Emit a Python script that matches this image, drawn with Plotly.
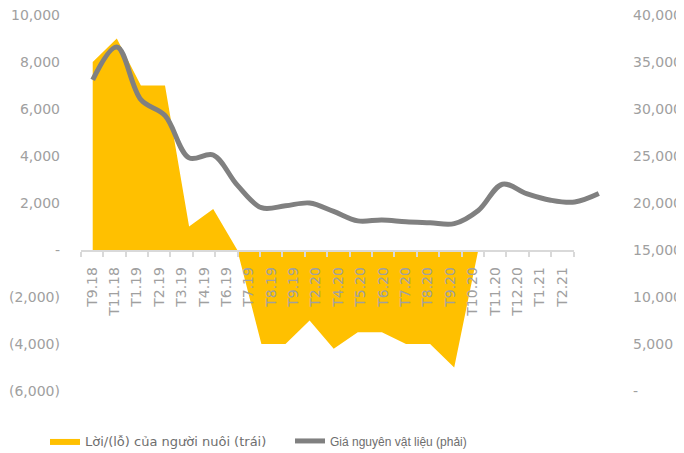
import plotly.graph_objects as go

months = ["T9.18", "T11.18", "T1.19", "T2.19", "T3.19", "T4.19", "T6.19", "T7.19",
          "T8.19", "T9.19", "T2.20", "T4.20", "T5.20", "T6.20", "T7.20", "T8.20",
          "T9.20", "T10.20", "T11.20", "T12.20", "T1.21", "T2.21"]

profit = [8000, 9000, 7000, 7000, 1000, 1750, 0, -4000, -4000, -3000, -4200, -3500,
          -3500, -4000, -4000, -5000, 0, None, None, None, None, None]

price = [33100, 36600, 31000, 29300, 24800, 25100, 21900, 19500, 19700, 20000, 19100,
         18100, 18200, 18000, 17900, 17800, 19200, 22000, 21000, 20300, 20100, 21000]

left_vals = [-6000, -4000, -2000, 0, 2000, 4000, 6000, 8000, 10000]
left_text = ["(6,000)", "(4,000)", "(2,000)", "-", "2,000", "4,000", "6,000", "8,000", "10,000"]
right_vals = [0, 5000, 10000, 15000, 20000, 25000, 30000, 35000, 40000]
right_text = ["-", "5,000", "10,000", "15,000", "20,000", "25,000", "30,000", "35,000", "40,000"]

name_profit = "Lời/(lỗ) của người nuôi (trái)"
name_price = "<span style='font-family:Liberation Sans;font-size:12px'>Giá nguyên vật liệu (phải)</span>"

# the page adds an 8px body margin, so the figure is 8px smaller than the window
W, H = 676, 445
FONT = "DejaVu Sans"
AX_COLOR = "#A0A0A0"

fig = go.Figure()

fig.add_trace(go.Scatter(
    x=months, y=profit, name=name_profit, mode="lines",
    line=dict(width=0, color="#FFC000"), fill="tozeroy", fillcolor="#FFC000",
    xaxis="x", yaxis="y", hoverinfo="x+y"))

fig.add_trace(go.Scatter(
    x=months, y=price, name=name_price, mode="lines",
    line=dict(width=5, color="#808080", shape="spline", smoothing=1.0),
    xaxis="x", yaxis="y2", hoverinfo="x+y"))

# category axis carrying the month labels
fig.add_trace(go.Scatter(
    x=months, y=[0] * len(months), mode="lines", line=dict(width=0),
    opacity=0, showlegend=False, hoverinfo="skip", xaxis="x2", yaxis="y"))

fig.update_layout(
    width=W, height=H,
    margin=dict(l=0, r=0, t=7, b=62, autoexpand=False),
    paper_bgcolor="white", plot_bgcolor="rgba(0,0,0,0)",
    font=dict(family=FONT, size=14, color=AX_COLOR),
    showlegend=True,
    legend=dict(orientation="h", x=37 / W, xanchor="left",
                yref="container", y=1 - 433 / H, yanchor="middle",
                font=dict(family=FONT, size=13, color="#6E6E6E"),
                entrywidth=200, entrywidthmode="pixels", itemwidth=30,
                bgcolor="rgba(0,0,0,0)"),
    xaxis=dict(type="category", categoryorder="array", categoryarray=months,
               domain=[72.8 / W, 604 / W], range=[-0.494, 21.548],
               visible=False, anchor="y", fixedrange=True),
    xaxis2=dict(type="category", categoryorder="array", categoryarray=months,
                domain=[72.8 / W, 565.5 / W], range=[-0.5, 21.5],
                anchor="free", position=0.373,
                showline=True, linecolor="#D9D9D9", linewidth=1.5,
                ticks="outside", tickson="boundaries", ticklen=5, tickcolor="#D9D9D9",
                tickwidth=1.5, tickangle=-90, showgrid=False, zeroline=False,
                ticklabelstandoff=10,
                tickfont=dict(family=FONT, size=14, color=AX_COLOR), fixedrange=True),
    yaxis=dict(domain=[0, 1], range=[-6000, 10000], anchor="free", position=52 / W,
               tickvals=left_vals, ticktext=left_text, showgrid=False, zeroline=False,
               showline=False, ticks="", ticklabeloverflow="allow",
               tickfont=dict(family=FONT, size=14, color=AX_COLOR), fixedrange=True),
    yaxis2=dict(overlaying="y", side="right", range=[0, 40000], anchor="free",
                position=624 / W, tickvals=right_vals, ticktext=right_text,
                showgrid=False, zeroline=False, showline=False, ticks="",
                ticklabeloverflow="allow",
                tickfont=dict(family=FONT, size=14, color=AX_COLOR), fixedrange=True),
)

fig.write_html("out.html")
